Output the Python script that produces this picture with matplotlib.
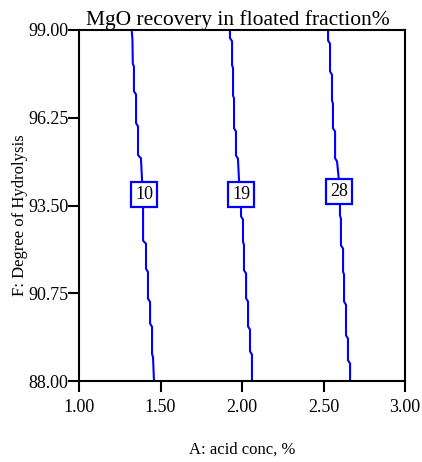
import matplotlib
matplotlib.use("Agg")
import matplotlib.pyplot as plt

plt.rcParams['font.family'] = ['Liberation Serif', 'DejaVu Serif']

# contour levels and their traced paths (acid conc %, degree of hydrolysis)
levels = [10, 19, 28]

line10_x = [1.323, 1.328, 1.330, 1.337, 1.337, 1.350, 1.350, 1.362, 1.362, 1.380, 1.387,
            1.393, 1.393, 1.411, 1.411, 1.423, 1.423, 1.436, 1.436, 1.448, 1.448, 1.454, 1.460]
line10_y = [99.00, 98.70, 97.95, 97.85, 97.08, 96.98, 96.08, 95.98, 95.08, 94.98, 94.27,
            93.45, 92.40, 92.30, 91.52, 91.42, 90.58, 90.48, 89.80, 89.70, 88.85, 88.75, 88.00]

line19_x = [1.926, 1.926, 1.939, 1.939, 1.945, 1.945, 1.951, 1.951, 1.963, 1.963, 1.975, 1.982,
            1.994, 1.994, 2.006, 2.006, 2.012, 2.012, 2.025, 2.025, 2.037, 2.037, 2.049, 2.049, 2.061, 2.061]
line19_y = [99.00, 98.75, 98.65, 97.90, 97.80, 96.95, 96.85, 95.92, 95.82, 95.07, 94.97, 94.27,
            93.45, 93.16, 93.06, 92.37, 92.27, 91.47, 91.37, 90.59, 90.49, 89.71, 89.61, 88.93, 88.83, 88.00]

line28_x = [2.528, 2.528, 2.540, 2.540, 2.552, 2.552, 2.558, 2.558, 2.571, 2.571, 2.583, 2.595,
            2.601, 2.601, 2.607, 2.607, 2.620, 2.620, 2.626, 2.626, 2.638, 2.638, 2.650, 2.650, 2.663, 2.663]
line28_y = [99.00, 98.67, 98.57, 97.70, 97.60, 96.79, 96.69, 95.92, 95.82, 94.98, 94.88, 94.27,
            93.58, 93.19, 93.09, 92.25, 92.15, 91.43, 91.33, 90.49, 90.39, 89.43, 89.33, 88.65, 88.55, 88.00]

label_x = [1.399, 1.995, 2.597]
label_y = [93.85, 93.84, 93.95]

xticks = [1.00, 1.50, 2.00, 2.50, 3.00]
yticks = [88.00, 90.75, 93.50, 96.25, 99.00]

fig = plt.figure(figsize=(4.22, 4.62), dpi=100)
ax = fig.add_axes([79 / 422, 81 / 462, 326 / 422, 351 / 462])

blue = '#0000FF'
for xs, ys in [(line10_x, line10_y), (line19_x, line19_y), (line28_x, line28_y)]:
    ax.plot(xs, ys, color=blue, lw=1.5, zorder=2)

for lev, lx, ly in zip(levels, label_x, label_y):
    ax.text(lx, ly, str(lev), ha='center', va='center', fontsize=13, zorder=3,
            bbox=dict(boxstyle='square,pad=0.22', fc='white', ec=blue, lw=1.6))

ax.set_xlim(1.0, 3.0)
ax.set_ylim(88.0, 99.0)
ax.set_xticks(xticks)
ax.set_yticks(yticks)
ax.set_xticklabels(["%.2f" % v for v in xticks])
ax.set_yticklabels(["%.2f" % v for v in yticks])
ax.tick_params(axis='x', direction='out', length=7.6, width=1.5, labelsize=13, pad=5)
ax.tick_params(axis='y', direction='out', length=7.6, width=1.5, labelsize=13, pad=0)
for sp in ax.spines.values():
    sp.set_linewidth(1.5)

ax.set_title("MgO recovery in floated fraction%", fontsize=15.5, pad=0, x=0.486)
ax.set_xlabel("A: acid conc, %", fontsize=12, va='center')
ax.xaxis.set_label_coords(0.5, (381 - 450) / 351)
ax.set_ylabel("F: Degree of Hydrolysis", fontsize=12, va='center')
ax.yaxis.set_label_coords((20 - 79) / 326, 0.4715)

fig.savefig("out.png", dpi=100)
